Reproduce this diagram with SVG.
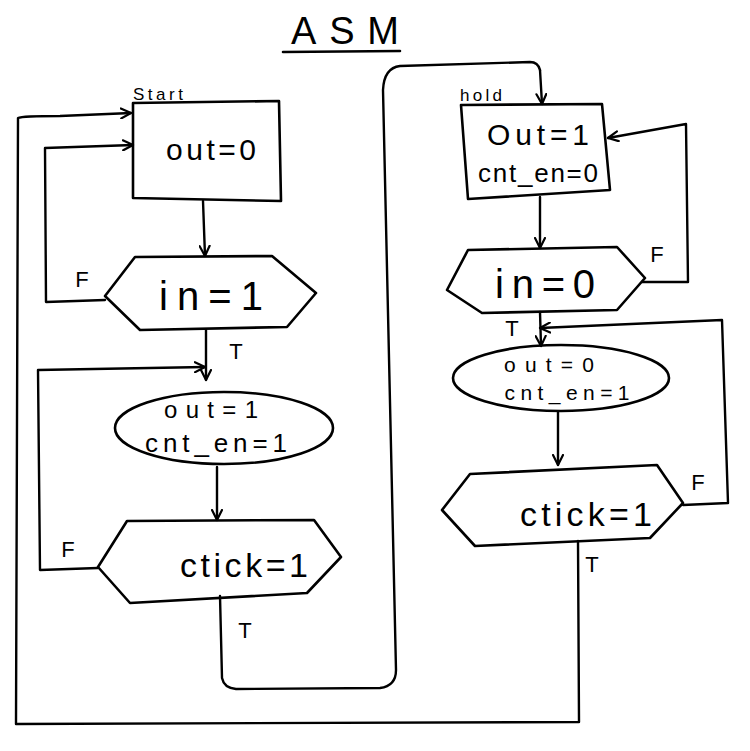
<svg xmlns="http://www.w3.org/2000/svg" width="750" height="751" viewBox="0 0 750 751">
<defs>
<marker id="arr" viewBox="0 0 12 12" refX="11" refY="6" markerWidth="12" markerHeight="12" markerUnits="userSpaceOnUse" orient="auto">
<path d="M1,1 L11,6 L1,11" fill="none" stroke="#000" stroke-width="2.2" stroke-linecap="round" stroke-linejoin="round"/>
</marker>
<style>
.s{fill:none;stroke:#000;stroke-width:2.6;stroke-linecap:round;stroke-linejoin:round}
.c{fill:none;stroke:#000;stroke-width:2.4;stroke-linecap:round;stroke-linejoin:round}
.a{marker-end:url(#arr)}
text{font-family:"Liberation Sans","DejaVu Sans",sans-serif;fill:#000;text-anchor:middle}
.lb{font-size:22px}
.sm{font-size:17px}
</style>
</defs>
<rect width="750" height="751" fill="#fff"/>

<g id="title">
<text x="345" y="44" font-size="38" textLength="108" lengthAdjust="spacing">ASM</text>
<path class="s" d="M283,52 L400,51"/>
</g>

<g id="connectors">
<!-- left column -->
<path class="c a" d="M203,201 L205,256"/>
<path class="c a" d="M105,300 L46,302 L45,148 L133,145"/>
<path class="c a" d="M206,330 L206,380"/>
<path class="c a" d="M98,568 L40,570 L38,370 L205,367"/>
<path class="c a" d="M217,467 L217,520"/>
<path class="c" d="M220,596 L222,678 Q224,688 236,689 L380,688 Q396,686 396,670 L383,90 Q384,68 400,66 L530,62 Q538,62 540,70"/>
<path class="c a" d="M540,70 L542,104"/>
<path class="c a" d="M578,541 L579,722 L16,724 L18,118 Q22,116 60,116 L131,113"/>
<!-- right column -->
<path class="c a" d="M540,197 L540,248"/>
<path class="c a" d="M642,282 L688,282 L686,124 L608,138"/>
<path class="c a" d="M540,312 L541,346"/>
<path class="c a" d="M683,505 L728,503 L722,320 L540,328"/>
<path class="c a" d="M558,412 L558,465"/>
</g>

<g id="start">
<text x="158" y="100" class="sm" textLength="50" lengthAdjust="spacing">Start</text>
<path class="s" d="M133,103 L279,101 L281,201 L133,198 Z"/>
<text x="211" y="160" font-size="30" textLength="90" lengthAdjust="spacing">out=0</text>
</g>

<g id="dec_in1">
<path class="s" d="M135,257 L272,256 L316,293 L287,327 L140,330 L105,296 Z"/>
<text x="211" y="310" font-size="40" textLength="104" lengthAdjust="spacing">in=1</text>
</g>

<g id="state_out1">
<ellipse class="s" cx="224" cy="428" rx="109" ry="36"/>
<text x="211" y="418" font-size="24" textLength="94" lengthAdjust="spacing">out=1</text>
<text x="216" y="452" font-size="26" textLength="142" lengthAdjust="spacing">cnt_en=1</text>
</g>

<g id="dec_ctick_left">
<path class="s" d="M127,521 L314,520 L341,557 L307,593 L130,603 L98,567 Z"/>
<text x="244" y="577" font-size="34" textLength="128" lengthAdjust="spacing">ctick=1</text>
</g>

<g id="hold">
<text x="481" y="101" class="sm" textLength="42" lengthAdjust="spacing">hold</text>
<path class="s" d="M461,105 L602,104 L610,190 L468,199 Z"/>
<text x="538" y="145" font-size="30" textLength="102" lengthAdjust="spacing">Out=1</text>
<text x="538" y="182" font-size="26" textLength="120" lengthAdjust="spacing">cnt_en=0</text>
</g>

<g id="dec_in0">
<path class="s" d="M468,250 L617,247 L645,278 L617,310 L482,313 L447,290 Z"/>
<text x="545" y="298" font-size="40" textLength="100" lengthAdjust="spacing">in=0</text>
</g>

<g id="state_out0">
<ellipse class="s" cx="561" cy="378" rx="108" ry="33"/>
<text x="549" y="372" font-size="21" textLength="90" lengthAdjust="spacing">out=0</text>
<text x="567" y="400" font-size="21" textLength="125" lengthAdjust="spacing">cnt_en=1</text>
</g>

<g id="dec_ctick_right">
<path class="s" d="M470,474 L657,465 L683,503 L650,538 L475,546 L442,510 Z"/>
<text x="586" y="526" font-size="34" textLength="132" lengthAdjust="spacing">ctick=1</text>
</g>

<g id="labels">
<text x="82" y="287" class="lb">F</text>
<text x="236" y="359" class="lb">T</text>
<text x="68" y="557" class="lb">F</text>
<text x="245" y="638" class="lb">T</text>
<text x="657" y="262" class="lb">F</text>
<text x="512" y="336" class="lb">T</text>
<text x="698" y="490" class="lb">F</text>
<text x="592" y="572" class="lb">T</text>
</g>
</svg>
